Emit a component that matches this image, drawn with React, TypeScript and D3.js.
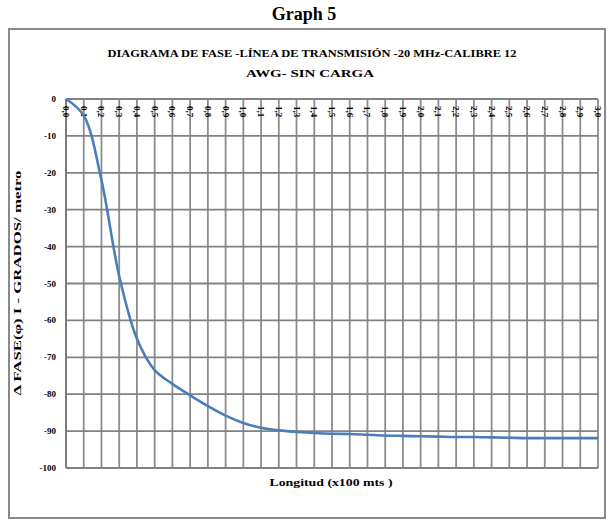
import React from "react";
import * as d3 from "d3";

const xLabels = ["0,0","0,1","0,2","0,3","0,4","0,5","0,6","0,7","0,8","0,9","1,0","1,1","1,2","1,3","1,4","1,5","1,6","1,7","1,8","1,9","2,0","2,1","2,2","2,3","2,4","2,5","2,6","2,7","2,8","2,9","3,0"];
const phaseValues = [0, -4.5, -22, -48, -65, -73.5, -77.2, -80.3, -83.2, -85.8, -87.8, -89.1, -89.8, -90.2, -90.5, -90.7, -90.8, -91, -91.2, -91.3, -91.4, -91.5, -91.6, -91.6, -91.7, -91.8, -91.9, -91.9, -91.9, -91.9, -91.9];
const yTicks = [0, -10, -20, -30, -40, -50, -60, -70, -80, -90, -100];

export default function App() {
  const W = 608, H = 521;
  const left = 66, right = 598, top = 99, bottom = 468;
  const x = d3.scaleLinear().domain([0, xLabels.length - 1]).range([left, right]);
  const y = d3.scaleLinear().domain([0, -100]).range([top, bottom]);
  const line = d3.line<number>().x((_, i) => x(i)).y(d => y(d)).curve(d3.curveCatmullRom.alpha(0.5));
  const serif = "'Liberation Serif', 'Times New Roman', serif";
  return (
    <svg width={W} height={H} style={{ position: "absolute", left: 0, top: 0, background: "#fff" }} fontFamily={serif}>
      <text x={304} y={20} textAnchor="middle" fontSize={18} fontWeight="bold">Graph 5</text>
      <rect x={9} y={29} width={596} height={489} fill="#fff" stroke="#8a8a8a" strokeWidth={2} />
      <text x={312} y={57} textAnchor="middle" fontSize={11} fontWeight="bold" textLength={409} lengthAdjust="spacingAndGlyphs">DIAGRAMA DE FASE -LÍNEA DE TRANSMISIÓN -20 MHz-CALIBRE 12</text>
      <text x={310} y={77} textAnchor="middle" fontSize={11} fontWeight="bold" textLength={128} lengthAdjust="spacingAndGlyphs">AWG- SIN CARGA</text>
      {xLabels.map((_, i) => (
        <line key={"v" + i} x1={x(i)} x2={x(i)} y1={top} y2={bottom} stroke="#8c8c8c" strokeWidth={1.8} />
      ))}
      {yTicks.map(t => (
        <line key={"h" + t} x1={left} x2={right} y1={y(t)} y2={y(t)} stroke="#828282" strokeWidth={1.8} />
      ))}
      <line x1={left} x2={left} y1={top} y2={bottom} stroke="#7a7a7a" strokeWidth={1.8} />
      {yTicks.map(t => (
        <text key={"yl" + t} x={56} y={y(t) + 3} textAnchor="end" fontSize={9} fontWeight="bold">{t}</text>
      ))}
      {xLabels.map((l, i) => (
        <text key={"xl" + i} transform={`translate(${x(i) - 3},${top + 7}) rotate(90)`} fontSize={9} fontWeight="bold">{l}</text>
      ))}
      <path d={line(phaseValues) || ""} fill="none" stroke="#4a7ebb" strokeWidth={2.6} />
      <text transform={`translate(21,283) rotate(-90)`} textAnchor="middle" fontSize={10.5} fontWeight="bold" textLength={225} lengthAdjust="spacingAndGlyphs">Δ FASE(φ) I - GRADOS/ metro</text>
      <text x={331} y={486} textAnchor="middle" fontSize={11} fontWeight="bold" textLength={123} lengthAdjust="spacingAndGlyphs">Longitud (x100 mts )</text>
    </svg>
  );
}
